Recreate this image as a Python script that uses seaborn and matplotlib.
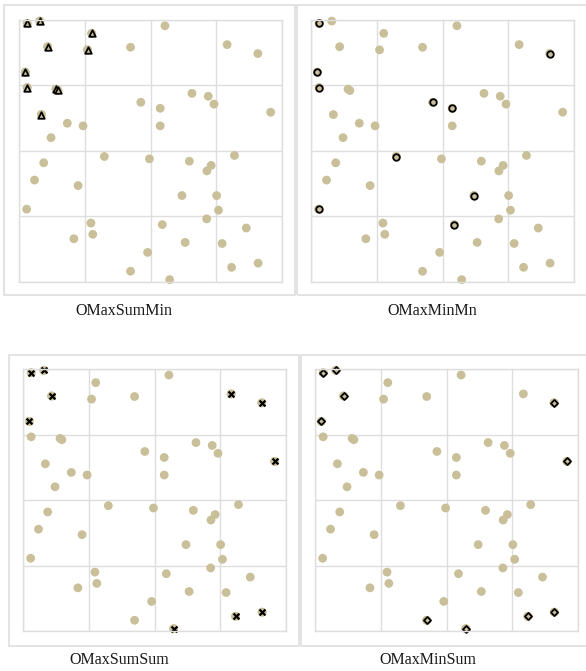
import matplotlib
matplotlib.use("Agg")
import matplotlib.pyplot as plt
from matplotlib.patches import Rectangle
import seaborn as sns
import pandas as pd

# ---- data (shared point set) ----
px = [3.0, 7.8, 27.6, 10.8, 26.0, 2.3, 3.0, 14.0, 14.7, 8.4,
      55.5, 42.4, 79.2, 90.9, 65.8, 72.0, 74.2, 46.3, 53.7, 95.8,
      18.3, 24.3, 53.7, 12.1, 32.4, 49.6, 64.8, 82.0, 73.1, 71.5,
      9.3, 5.8, 22.4, 62.0, 75.2, 2.8, 75.9, 71.4, 27.3, 54.5,
      28.0, 86.5, 20.8, 63.2, 77.3, 48.9, 42.4, 57.3, 80.9, 91.0]
py = [98.7, 99.6, 94.9, 89.8, 88.6, 80.1, 74.2, 73.6, 73.1, 63.9,
      97.8, 89.6, 90.6, 87.2, 72.0, 70.9, 67.9, 68.6, 66.3, 64.8,
      60.6, 59.6, 59.6, 55.1, 47.9, 47.0, 46.1, 48.3, 44.5, 42.4,
      45.5, 38.9, 36.8, 33.0, 33.0, 27.8, 27.4, 24.1, 22.5, 21.9,
      18.2, 20.6, 16.5, 15.1, 14.7, 11.3, 4.1, 0.9, 5.6, 7.2]

titles = ["OMaxSumMin", "OMaxMinMn", "OMaxSumSum", "OMaxMinSum"]
sel_sum_min = [0, 1, 2, 3, 4, 5, 6, 7, 8, 9]
sel_min_mn = [0, 5, 6, 17, 18, 13, 24, 33, 35, 39]
sel_sum_sum = [0, 1, 3, 5, 12, 13, 19, 48, 49, 47]
sel_min_sum = [0, 1, 3, 5, 13, 19, 46, 47, 48, 49]
selections = [sel_sum_min, sel_min_mn, sel_sum_sum, sel_min_sum]
markers = ["^", "o", "x", "D"]
grid_ticks = [0, 25, 50, 75, 100]

df = pd.DataFrame({"x": px, "y": py})

# ---- styling ----
TAN = "#c9bf99"
GRID = "#dedede"
W, H = 586, 671

sns.set_theme(style="white")
plt.rcParams["font.family"] = ["Liberation Serif", "DejaVu Serif"]

fig = plt.figure(figsize=(W / 100, H / 100), dpi=100)

def fbox(x0, y0, x1, y1):
    return [x0 / W, 1 - y1 / H, (x1 - x0) / W, (y1 - y0) / H]

axes_px = [(19.3, 20, 281.7, 282), (311.3, 20, 573.7, 282),
           (23.3, 369.3, 285.7, 631), (315.3, 369.3, 578, 631)]
frames_px = [(4, 5, 295, 295), (297, 5, 590, 295),
             (8.7, 355, 299, 645.7), (301, 355, 590, 645.7)]
title_px = [(124, 311), (432, 311), (119.5, 660), (428, 660)]
msize = {"^": 22, "o": 22, "x": 18, "D": 13}

for i in range(4):
    fx0, fy0, fx1, fy1 = frames_px[i]
    fig.add_artist(Rectangle((fx0 / W, 1 - fy1 / H), (fx1 - fx0) / W, (fy1 - fy0) / H,
                             transform=fig.transFigure, fill=False,
                             edgecolor=GRID, linewidth=1.2))
    ax = fig.add_axes(fbox(*axes_px[i]))
    ax.set_xlim(0, 100)
    ax.set_ylim(0, 100)
    ax.set_xticks(grid_ticks)
    ax.set_yticks(grid_ticks)
    ax.set_xticklabels([])
    ax.set_yticklabels([])
    ax.tick_params(length=0)
    ax.grid(True, color=GRID, linewidth=1.0)
    ax.set_axisbelow(True)
    for sp in ax.spines.values():
        sp.set_color(GRID)
        sp.set_linewidth(1.0)

    sns.scatterplot(data=df, x="x", y="y", color=TAN, s=40, edgecolor="none",
                    ax=ax, clip_on=False, legend=False)
    sub = df.iloc[selections[i]]
    sns.scatterplot(data=sub, x="x", y="y", color=TAN, s=40, edgecolor="none",
                    ax=ax, clip_on=False, legend=False)
    m = markers[i]
    if m == "x":
        sns.scatterplot(data=sub, x="x", y="y", marker="x", color="black",
                        s=msize[m], linewidth=1.6, ax=ax, clip_on=False, legend=False)
    else:
        sns.scatterplot(data=sub, x="x", y="y", marker=m, color=TAN,
                        edgecolor="black", s=msize[m], linewidth=1.3,
                        ax=ax, clip_on=False, legend=False)
    ax.set_xlabel("")
    ax.set_ylabel("")

    tx, ty = title_px[i]
    fig.text(tx / W, 1 - ty / H, titles[i], ha="center", va="center",
             fontsize=11.5, color="#1a1a1a")

fig.savefig("out.png", dpi=100)
